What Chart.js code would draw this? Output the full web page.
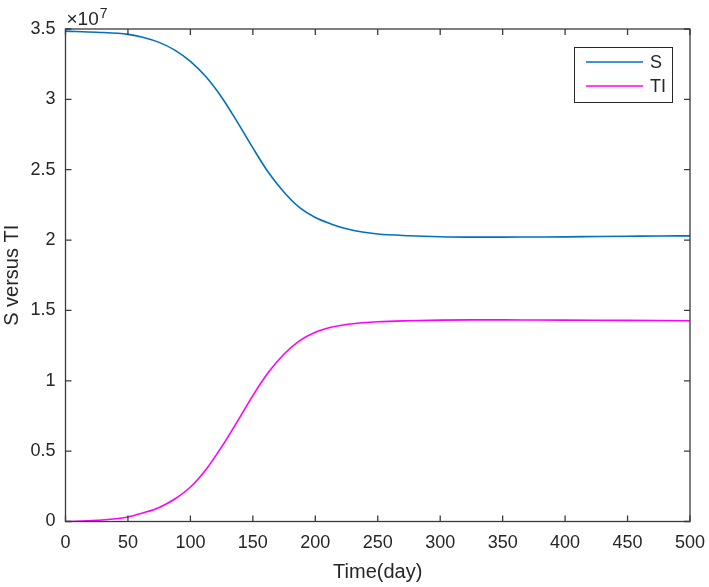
<!DOCTYPE html>
<html>
<head>
<meta charset="utf-8">
<script src="https://cdn.jsdelivr.net/npm/chart.js@4"></script>
<style>
  html, body { margin: 0; padding: 0; background: #fff; }
  #wrap { width: 709px; height: 587px; }
</style>
</head>
<body>
<div id="wrap"><canvas id="ChartCanvas" width="709" height="587"></canvas></div>
<script>
// values (population, units of 1e7)
const days = [0, 25, 50, 62.5, 75, 87.5, 100, 112.5, 125, 137.5, 150, 162.5, 175, 187.5, 200, 212.5, 225, 237.5, 250, 275, 300, 325, 350, 375, 400, 425, 450, 475, 500];
const sValues = [3.485, 3.477, 3.462, 3.44, 3.405, 3.35, 3.27, 3.16, 3.015, 2.84, 2.655, 2.48, 2.34, 2.23, 2.16, 2.115, 2.08, 2.057, 2.043, 2.031, 2.024, 2.021, 2.021, 2.022, 2.023, 2.025, 2.027, 2.029, 2.03];
const tiValues = [0.0, 0.008, 0.032, 0.062, 0.10, 0.16, 0.245, 0.37, 0.53, 0.71, 0.895, 1.06, 1.19, 1.285, 1.345, 1.38, 1.40, 1.412, 1.42, 1.427, 1.431, 1.433, 1.433, 1.432, 1.431, 1.430, 1.429, 1.428, 1.427];
const xTicks = [0, 50, 100, 150, 200, 250, 300, 350, 400, 450, 500];
const yTicks = [0, 0.5, 1, 1.5, 2, 2.5, 3, 3.5];

const axisColor = '#262626';
const FONT = '"Liberation Sans", Arial, Helvetica, sans-serif';

function toPoints(vals) {
  return days.map((d, i) => ({ x: d, y: vals[i] * 1e7 }));
}

// box, inward ticks, exponent label and legend, MATLAB style
const matlabAxes = {
  id: 'matlabAxes',
  afterDraw(chart) {
    const ctx = chart.ctx;
    const a = chart.chartArea;
    const xs = chart.scales.x, ys = chart.scales.y;
    const tl = 6;
    ctx.save();
    ctx.strokeStyle = '#3a3a3a';
    ctx.lineWidth = 1.3;
    ctx.strokeRect(a.left, a.top, a.right - a.left, a.bottom - a.top);
    ctx.beginPath();
    xTicks.forEach(v => {
      const px = xs.getPixelForValue(v);
      ctx.moveTo(px, a.bottom); ctx.lineTo(px, a.bottom - tl);
      ctx.moveTo(px, a.top); ctx.lineTo(px, a.top + tl);
    });
    yTicks.forEach(v => {
      const py = ys.getPixelForValue(v * 1e7);
      ctx.moveTo(a.left, py); ctx.lineTo(a.left + tl, py);
      ctx.moveTo(a.right, py); ctx.lineTo(a.right - tl, py);
    });
    ctx.stroke();

    // x10^7 label
    ctx.fillStyle = axisColor;
    ctx.textBaseline = 'alphabetic';
    ctx.textAlign = 'left';
    ctx.font = '19px ' + FONT;
    ctx.fillText('\u00d710', a.left + 1, a.top - 4);
    const w = ctx.measureText('\u00d710').width;
    ctx.font = '14px ' + FONT;
    ctx.fillText('7', a.left + 2 + w, a.top - 11);

    // legend
    const lx = 574, ly = 47, lw = 98, lh = 55;
    ctx.fillStyle = '#fff';
    ctx.fillRect(lx, ly, lw, lh);
    ctx.strokeStyle = axisColor;
    ctx.lineWidth = 1;
    ctx.strokeRect(lx + 0.5, ly + 0.5, lw, lh);
    chart.data.datasets.forEach((ds, i) => {
      const y = ly + 15 + i * 24;
      ctx.strokeStyle = ds.borderColor;
      ctx.lineWidth = 1.6;
      ctx.beginPath();
      ctx.moveTo(lx + 12, y); ctx.lineTo(lx + 69, y);
      ctx.stroke();
      ctx.fillStyle = axisColor;
      ctx.font = '18px ' + FONT;
      ctx.textBaseline = 'middle';
      ctx.fillText(ds.label, lx + 76, y + 1);
    });
    ctx.restore();
  }
};

function sirChart() {
  const myChart = document.getElementById('ChartCanvas');

  new Chart(myChart, {
    type: 'line',
    data: {
      datasets: [{
        label: 'S',
        data: toPoints(sValues),
        borderColor: '#0072BD',
        borderWidth: 1.6,
        pointRadius: 0,
        cubicInterpolationMode: 'monotone'
      }, {
        label: 'TI',
        data: toPoints(tiValues),
        borderColor: '#FF00FF',
        borderWidth: 1.6,
        pointRadius: 0,
        cubicInterpolationMode: 'monotone'
      }]
    },
    options: {
      responsive: false,
      animation: false,
      layout: { padding: { left: 0, right: 19, top: 29, bottom: 0 } },
      plugins: {
        legend: { display: false },
        tooltip: { enabled: false }
      },
      scales: {
        x: {
          type: 'linear',
          min: 0,
          max: 500,
          afterBuildTicks: s => { s.ticks = xTicks.map(v => ({ value: v })); },
          afterFit: s => { s.height = 65.5; s.paddingRight = 0; s.paddingLeft = 0; },
          grid: { display: false, drawTicks: false },
          border: { display: false },
          ticks: { color: axisColor, font: { size: 18, family: FONT }, padding: 11, maxRotation: 0 },
          title: { display: true, text: 'Time(day)', color: axisColor, font: { size: 20, family: FONT }, padding: { top: 0, bottom: 3 } }
        },
        y: {
          min: 0,
          max: 3.5e7,
          afterBuildTicks: s => { s.ticks = yTicks.map(v => ({ value: v * 1e7 })); },
          afterFit: s => { s.width = 65.5; s.paddingTop = 0; s.paddingBottom = 0; },
          grid: { display: false, drawTicks: false },
          border: { display: false },
          ticks: { color: axisColor, font: { size: 18, family: FONT }, padding: 10, callback: v => String(v / 1e7) },
          title: { display: true, text: 'S versus TI', color: axisColor, font: { size: 20, family: FONT }, padding: 0 }
        }
      }
    },
    plugins: [matlabAxes]
  });
}

document.addEventListener('DOMContentLoaded', () => {
  sirChart();
});
</script>
</body>
</html>
